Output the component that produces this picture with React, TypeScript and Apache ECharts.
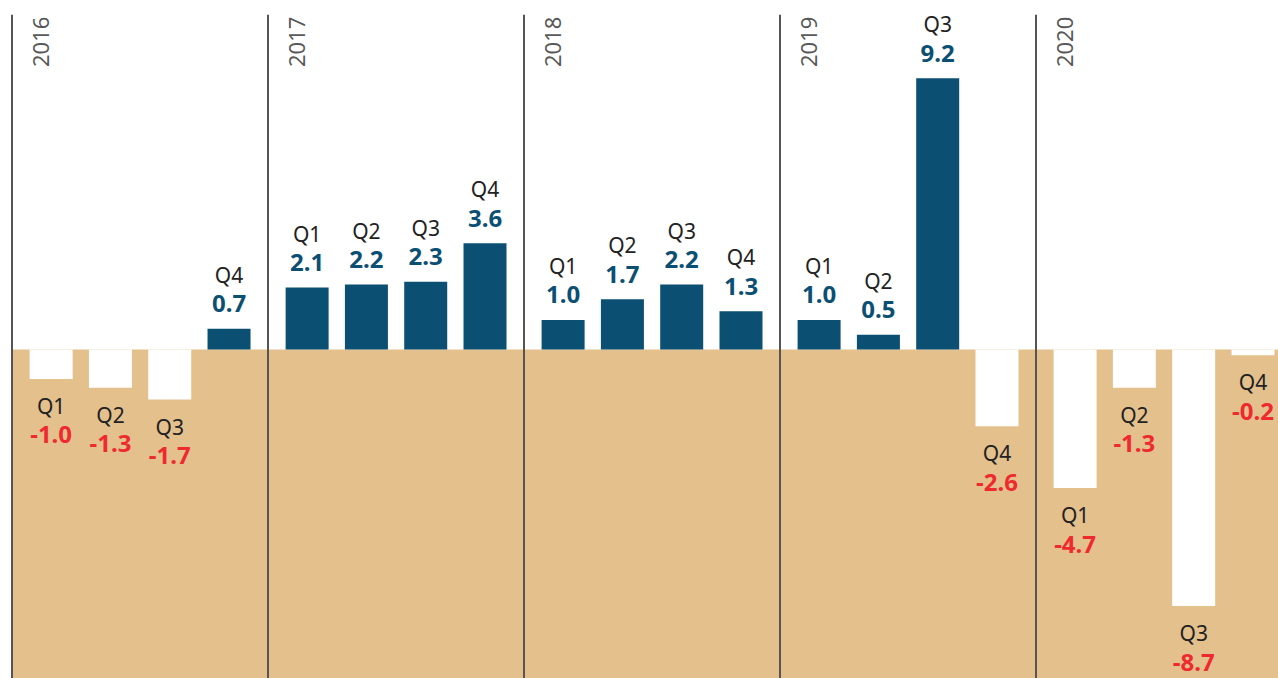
import React, { useEffect, useRef } from "react";
import * as echarts from "echarts";

const years = ["2016", "2017", "2018", "2019", "2020"];
const quarters = ["Q1", "Q2", "Q3", "Q4"];
const values2016 = [-1.0, -1.3, -1.7, 0.7];
const values2017 = [2.1, 2.2, 2.3, 3.6];
const values2018 = [1.0, 1.7, 2.2, 1.3];
const values2019 = [1.0, 0.5, 9.2, -2.6];
const values2020 = [-4.7, -1.3, -8.7, -0.2];
const valuesByYear = [values2016, values2017, values2018, values2019, values2020];

// layout constants (axis units: one quarter slot = 1)
const YEAR_SPAN = 4.317;
const Q_OFFSET = 0.66;
const X_MIN = 0;
const X_MAX = 21.35;
const Y_MIN = -11.14;
const Y_MAX = 11.85;
const LINE_TOP = 11.35;

const BLUE = "#0b4f72";
const RED = "#ee2a2f";
const TAN = "#e4c08d";
const FONT = "'Noto Sans', 'DejaVu Sans', sans-serif";

export default function App() {
  const ref = useRef<HTMLDivElement>(null);

  useEffect(() => {
    document.body.style.margin = "0";
    document.body.style.overflow = "hidden";
    if (!ref.current) return;
    const chart = echarts.init(ref.current, null, { renderer: "svg" });

    const barData: any[] = [];
    valuesByYear.forEach((vals, i) => {
      vals.forEach((v, q) => {
        const neg = v < 0;
        barData.push({
          value: [i * YEAR_SPAN + Q_OFFSET + q, v],
          itemStyle: { color: neg ? "#ffffff" : BLUE },
          label: {
            show: true,
            position: neg ? "bottom" : "top",
            distance: neg ? 13 : 12,
            formatter: neg
              ? `{q|${quarters[q]}}\n{n|${v.toFixed(1)}}`
              : `{q|${quarters[q]}}\n{p|${v.toFixed(1)}}`,
            rich: {
              q: { fontFamily: FONT, fontSize: 21, color: "#222", lineHeight: 28, align: "center" },
              p: { fontFamily: FONT, fontSize: 24, fontWeight: "bold", color: BLUE, lineHeight: 28, align: "center" },
              n: { fontFamily: FONT, fontSize: 24, fontWeight: "bold", color: RED, lineHeight: 28, align: "center" },
            },
          },
        });
      });
    });

    const yearLines = years.map((_, i) => [
      { coord: [i * YEAR_SPAN, LINE_TOP] },
      { coord: [i * YEAR_SPAN, Y_MIN] },
    ]);

    const yearLabelData = years.map((y, i) => ({
      value: [i * YEAR_SPAN + 0.48, 10.43],
      name: y,
    }));

    chart.setOption({
      animation: false,
      grid: { left: 12, top: 0, right: 0, bottom: 0, containLabel: false },
      xAxis: {
        type: "value",
        min: X_MIN,
        max: X_MAX,
        show: false,
        splitLine: { show: false },
      },
      yAxis: {
        type: "value",
        min: Y_MIN,
        max: Y_MAX,
        show: false,
        splitLine: { show: false },
      },
      series: [
        {
          type: "bar",
          barWidth: 43,
          data: barData,
          z: 3,
          markArea: {
            silent: true,
            itemStyle: { color: TAN },
            data: [[{ xAxis: X_MIN, yAxis: 0 }, { xAxis: X_MAX, yAxis: Y_MIN }]],
          },
          markLine: {
            silent: true,
            symbol: "none",
            label: { show: false },
            lineStyle: { color: "#555", width: 2, type: "solid" },
            data: yearLines,
          },
        },
        {
          type: "scatter",
          symbolSize: 0,
          silent: true,
          data: yearLabelData,
          label: {
            show: true,
            position: "inside",
            rotate: 90,
            formatter: (p: any) => p.name,
            fontFamily: FONT,
            fontSize: 22,
            color: "#2a2a2a",
            align: "center",
            verticalAlign: "middle",
          },
        },
      ],
    });

    return () => chart.dispose();
  }, []);

  return <div ref={ref} style={{ width: 1278, height: 678 }} />;
}
